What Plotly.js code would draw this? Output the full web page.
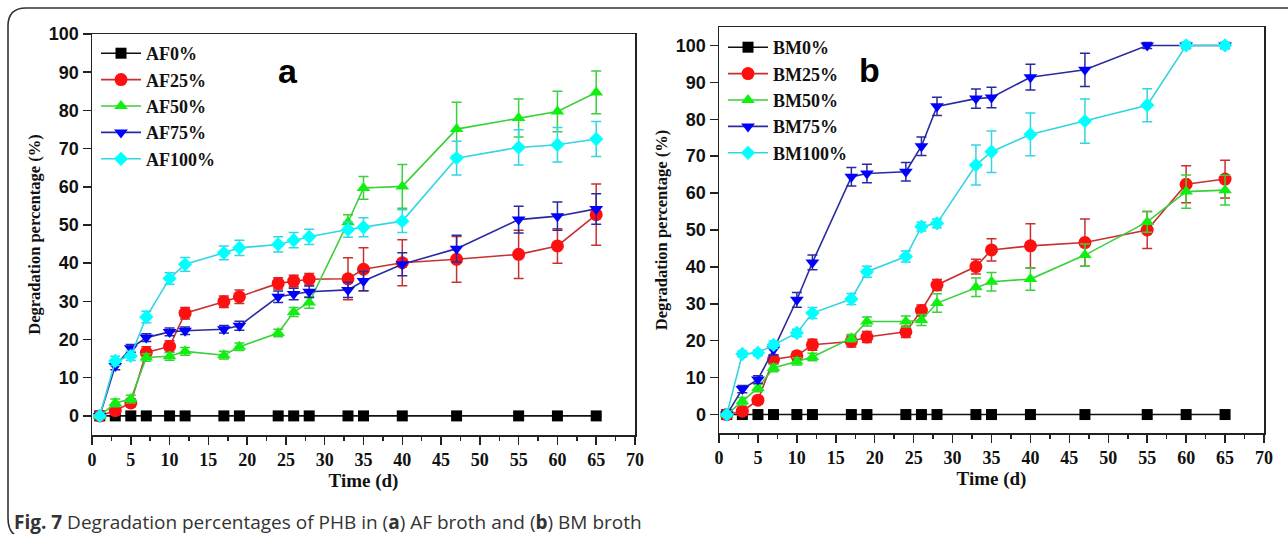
<!DOCTYPE html>
<html>
<head>
<meta charset="utf-8">
<script src="https://cdn.plot.ly/plotly-3.0.1.min.js"></script>
<style>html,body{margin:0;padding:0;background:#fff;}#chart{width:1288px;height:534px;}</style>
</head>
<body>
<div id="chart"></div>
<script>
// ---------- data ----------
var days = [1, 3, 5, 7, 10, 12, 17, 19, 24, 26, 28, 33, 35, 40, 47, 55, 60, 65];
var xTicks = [0, 5, 10, 15, 20, 25, 30, 35, 40, 45, 50, 55, 60, 65, 70];
var yTicks = [0, 10, 20, 30, 40, 50, 60, 70, 80, 90, 100];

var namesA = ["AF0%", "AF25%", "AF50%", "AF75%", "AF100%"];
var namesB = ["BM0%", "BM25%", "BM50%", "BM75%", "BM100%"];

var AF0     = [0, 0, 0, 0, 0, 0, 0, 0, 0, 0, 0, 0, 0, 0, 0, 0, 0, 0];
var AF0err  = [0, 0, 0, 0, 0, 0, 0, 0, 0, 0, 0, 0, 0, 0, 0, 0, 0, 0];
var AF25    = [0, 1.4, 3.4, 16.6, 18.2, 26.9, 29.9, 31.2, 34.7, 35.3, 35.8, 35.9, 38.4, 40.1, 41.0, 42.3, 44.5, 52.7];
var AF25err = [0, 1, 1, 1.5, 1.5, 1.5, 1.5, 1.8, 1.5, 1.5, 1.5, 5.5, 5.6, 6, 6, 6.3, 4.5, 8];
var AF50    = [0, 3.4, 4.4, 15.3, 15.6, 16.9, 15.9, 18.1, 21.7, 27.2, 29.7, 50.7, 59.7, 60.1, 75.1, 78.0, 79.7, 84.7];
var AF50err = [0, 1, 1, 1, 1, 1, 1, 1, 1, 1.2, 1.5, 2, 3, 5.7, 7, 5, 5.3, 5.6];
var AF75    = [0, 13.1, 17.7, 20.5, 22.0, 22.3, 22.7, 23.6, 31.2, 31.9, 32.5, 33.0, 35.3, 39.7, 43.8, 51.4, 52.3, 54.2];
var AF75err = [0, 1, 1, 1, 1, 1, 1, 1.2, 1.5, 1.5, 1.5, 2, 2.5, 3, 3.5, 3.5, 3.7, 4];
var AF100   = [0, 14.4, 15.7, 25.9, 36.0, 39.7, 42.7, 44.0, 44.9, 46.0, 46.9, 48.8, 49.4, 51.0, 67.5, 70.3, 71.0, 72.5];
var AF100err= [0, 1.2, 1.2, 1.5, 1.5, 1.8, 1.8, 2, 2, 2, 2, 2, 2.5, 3, 4.4, 4.6, 4.5, 4.6];

var BM0     = [0, 0, 0, 0, 0, 0, 0, 0, 0, 0, 0, 0, 0, 0, 0, 0, 0, 0];
var BM0err  = [0, 0, 0, 0, 0, 0, 0, 0, 0, 0, 0, 0, 0, 0, 0, 0, 0, 0];
var BM25    = [0, 0.9, 3.9, 14.9, 15.9, 18.9, 19.8, 21.0, 22.4, 28.2, 35.1, 40.1, 44.6, 45.7, 46.6, 50.0, 62.4, 63.8];
var BM25err = [0, 1, 1, 1.2, 1.2, 1.5, 1.5, 1.5, 1.5, 1.5, 1.5, 2, 3, 6, 6.4, 5, 5, 5.1];
var BM50    = [0, 3.6, 7.2, 12.6, 14.4, 15.6, 20.7, 25.2, 25.2, 25.6, 30.2, 34.5, 36.0, 36.7, 43.2, 52.2, 60.4, 60.8];
var BM50err = [0, 1, 1, 1, 1, 1, 1, 1.2, 1.5, 1.5, 2.5, 2.5, 2.5, 3, 3, 2.8, 4.5, 4];
var BM75    = [0, 6.9, 9.5, 17.6, 31.1, 41.2, 64.4, 65.3, 65.8, 72.7, 83.5, 85.6, 85.9, 91.4, 93.4, 100, 100, 100];
var BM75err = [0, 1, 1, 1.5, 2, 2, 2.5, 2.5, 2.5, 2.5, 2.5, 2.6, 2.8, 3.5, 4.5, 0.8, 0.8, 0.8];
var BM100   = [0, 16.4, 16.7, 18.9, 22.1, 27.5, 31.3, 38.7, 42.8, 50.9, 51.8, 67.6, 71.2, 75.9, 79.5, 83.8, 100, 100];
var BM100err= [0, 0.8, 0.8, 1, 1, 1.5, 1.5, 1.5, 1.5, 1.2, 1.2, 5.4, 5.6, 5.8, 6, 4.5, 0.8, 0.8];

// ---------- styles ----------
var markerColors = ["#000000", "#ff1010", "#10f010", "#0000ff", "#00ffff"];
var lineColors   = ["#111111", "#c83030", "#3ad03a", "#2a2aa0", "#33d5e2"];
var symbols      = ["square", "circle", "triangle-up", "triangle-down", "diamond"];
var sizes        = [11, 13, 12, 12, 11];

var W = 1288, H = 534;
function px(x) { return x / W; }
function py(y) { return 1 - y / H; }

var seriesA = [[AF0, AF0err], [AF25, AF25err], [AF50, AF50err], [AF75, AF75err], [AF100, AF100err]];
var seriesB = [[BM0, BM0err], [BM25, BM25err], [BM50, BM50err], [BM75, BM75err], [BM100, BM100err]];

var traces = [];
function addSeries(list, names, xa, ya, leg) {
  list.forEach(function (s, i) {
    traces.push({
      type: "scatter", mode: "lines+markers",
      x: days, y: s[0], name: names[i],
      xaxis: xa, yaxis: ya, legend: leg,
      line: { color: lineColors[i], width: 1.6 },
      marker: { symbol: symbols[i], size: sizes[i], color: markerColors[i], line: { width: 0 } },
      error_y: { type: "data", array: s[1], visible: true, color: lineColors[i], thickness: 1.5, width: 5 },
      cliponaxis: false
    });
  });
}
addSeries(seriesA, namesA, "x", "y", "legend");
addSeries(seriesB, namesB, "x2", "y2", "legend2");

var SERIF = "Liberation Serif, Times New Roman, serif";
var SANS = "Liberation Sans, Arial, sans-serif";
var xTickFont = { family: SERIF, size: 18, color: "#111", weight: "bold" };
var yTickFont = { family: SANS, size: 18, color: "#111", weight: "bold" };
var legendFont = { family: SERIF, size: 18, color: "#111", weight: "bold" };

function xaxisDef(domain) {
  return {
    domain: domain, range: [0, 70], tickmode: "array", tickvals: xTicks,
    ticks: "outside", ticklen: 8, tickwidth: 1.5, tickcolor: "#222",
    minor: { dtick: 2.5, tick0: 0, ticks: "outside", ticklen: 4, tickwidth: 1.5, tickcolor: "#222" },
    showline: true, linewidth: 1.5, linecolor: "#222", mirror: true,
    showgrid: false, zeroline: false, tickfont: xTickFont,
    title: { text: "Time (d)", font: { family: SERIF, size: 19, color: "#111", weight: "bold" }, standoff: 2 }
  };
}
function yaxisDef(domain, range) {
  return {
    domain: domain, range: range, tickmode: "array", tickvals: yTicks,
    ticks: "outside", ticklen: 8, tickwidth: 1.5, tickcolor: "#222",
    showline: true, linewidth: 1.5, linecolor: "#222", mirror: true,
    showgrid: false, zeroline: false, tickfont: yTickFont,
    title: { text: "Degradation percentage (%)", font: { family: SERIF, size: 16.5, color: "#111", weight: "bold" }, standoff: 4 }
  };
}

var xa = xaxisDef([px(92), px(635)]);  xa.anchor = "y";
var ya = yaxisDef([py(435), py(34)], [-5, 100]); ya.anchor = "x";
var xb = xaxisDef([px(719), px(1264)]); xb.anchor = "y2";
var yb = yaxisDef([py(433), py(27)], [-5, 105]); yb.anchor = "x2";

var legendStyle = function (x, y) {
  return { x: x, y: y, xanchor: "left", yanchor: "top", bgcolor: "rgba(0,0,0,0)",
    borderwidth: 0, font: legendFont, tracegroupgap: 0, itemwidth: 40 };
};

var layout = {
  width: W, height: H,
  margin: { l: 0, r: 0, t: 0, b: 0 },
  paper_bgcolor: "#ffffff", plot_bgcolor: "#ffffff",
  showlegend: true,
  xaxis: xa, yaxis: ya, xaxis2: xb, yaxis2: yb,
  legend: legendStyle(px(96), py(35)),
  legend2: legendStyle(px(723), py(29)),
  annotations: [
    { text: "a", xref: "paper", yref: "paper", x: px(276), y: py(50), showarrow: false,
      font: { family: SANS, size: 34, color: "#000", weight: "bold" } },
    { text: "b", xref: "paper", yref: "paper", x: px(882), y: py(49), showarrow: false,
      font: { family: SANS, size: 34, color: "#000", weight: "bold" } },
    { text: "<b>Fig. 7</b> Degradation percentages of PHB in (<b>a</b>) AF broth and (<b>b</b>) BM broth",
      xref: "paper", yref: "paper", x: px(12), y: py(522), xanchor: "left", yanchor: "middle", showarrow: false,
      font: { family: "Open Sans, Noto Sans, sans-serif", size: 19, color: "#333" } }
  ],
  shapes: [
    { type: "path", xref: "paper", yref: "paper",
      path: "M" + px(1300) + "," + py(8) + " L" + px(26) + "," + py(8) +
            " Q" + px(8) + "," + py(8) + " " + px(8) + "," + py(26) +
            " L" + px(8) + "," + py(518) +
            " Q" + px(8) + "," + py(538) + " " + px(26) + "," + py(538) + " L" + px(1300) + "," + py(538),
      line: { color: "#333", width: 1.6 } }
  ]
};

Plotly.newPlot("chart", traces, layout, { staticPlot: true, displayModeBar: false });
</script>
</body>
</html>
